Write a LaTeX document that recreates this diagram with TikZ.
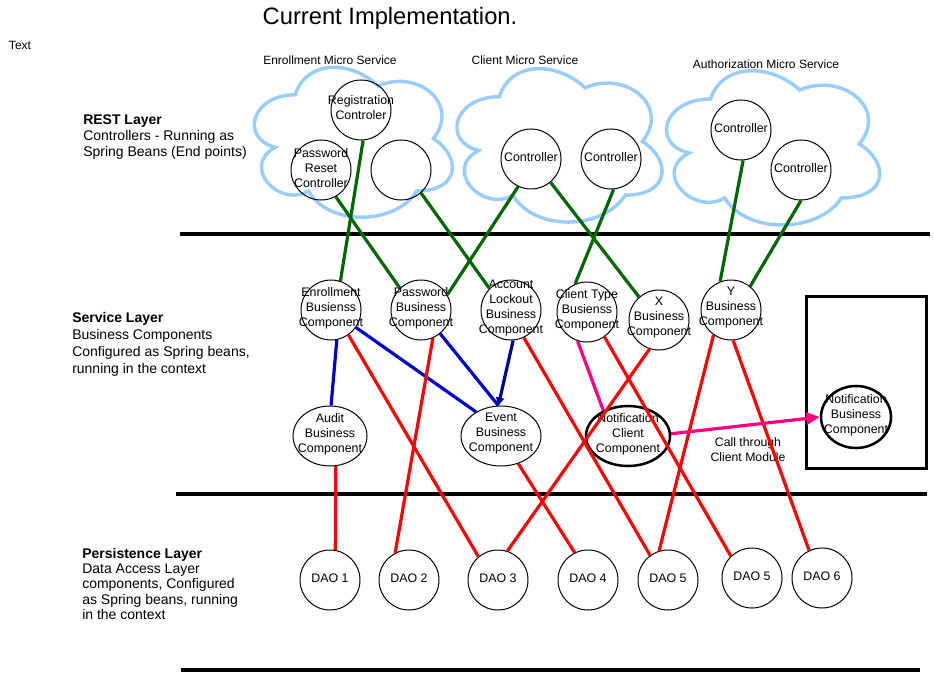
\documentclass[tikz,border=0pt]{standalone}
\usepackage{fontspec}
\setmainfont{Liberation Sans}
\usetikzlibrary{shapes.geometric,arrows.meta}

\definecolor{cloudblue}{RGB}{153,204,255}
\definecolor{restgreen}{RGB}{0,102,0}
\definecolor{callblue}{RGB}{0,0,204}
\definecolor{callnavy}{RGB}{0,0,153}
\definecolor{daored}{RGB}{255,0,0}
\definecolor{notifypink}{RGB}{255,0,128}

% micro-service cloud: #1,#2 = top-left corner, #3,#4 = width and height (y grows down)
\newcommand\mxcloud[4]{%
  \begin{scope}[shift={(#1,#2)}, x=#3, y=#4]
    \draw[cloudline] (0.25,0.25) .. controls (0.05,0.25) and (0,0.5) .. (0.16,0.55)
      .. controls (0,0.66) and (0.18,0.9) .. (0.31,0.8)
      .. controls (0.4,1) and (0.7,1) .. (0.8,0.8)
      .. controls (1,0.8) and (1,0.6) .. (0.875,0.5)
      .. controls (1,0.3) and (0.8,0.1) .. (0.625,0.2)
      .. controls (0.5,0.05) and (0.3,0.05) .. (0.25,0.25) -- cycle;
  \end{scope}}

\tikzset{
  cloudline/.style={draw=cloudblue, line width=2.6pt},
  ctext/.style={font=\fontsize{9.3}{11.25}\selectfont, align=center, inner sep=0pt, yshift=1.5pt},
  comp/.style={circle, draw, line width=0.75pt, minimum size=45pt, inner sep=0pt,
    label={[ctext]center:#1}},
  ell/.style={ellipse, draw, line width=0.75pt, inner sep=0pt,
    label={[ctext]center:#1}},
  boldell/.style={ell=#1, line width=1.9pt},
  small/.style={font=\fontsize{9}{11}\selectfont, align=center, inner sep=0pt},
  layertext/.style={font=\fontsize{10.5}{#1}\selectfont, align=left, inner sep=0pt, anchor=north west},
  layerline/.style={line width=2.6pt},
  rest/.style={draw=restgreen, line width=2.4pt},
  svc/.style={draw=callblue, line width=2.4pt},
  svcnavy/.style={draw=callnavy, line width=2.4pt},
  dao/.style={draw=daored, line width=2.4pt},
  notify/.style={draw=notifypink, line width=2.4pt},
}

\begin{document}
\begin{tikzpicture}[x=0.75pt, y=-0.75pt]
\useasboundingbox (0,0) rectangle (934,681);

% headings
\node[font=\fontsize{17.8}{20}\selectfont, inner sep=0pt] (title) at (390,18) {Current Implementation.};
\node[small] (txt) at (20,45) {Text};

% micro-service clouds and their names
\mxcloud{240}{51}{165.75pt}{-131.25pt}
\mxcloud{442}{52}{171.75pt}{-134.25pt}
\mxcloud{651}{54}{178.5pt}{-135pt}
\node[small] (enrms) at (330,60) {Enrollment Micro Service};
\node[small] (clims) at (525,60) {Client Micro Service};
\node[small] (authms) at (766,64) {Authorization Micro Service};

% layer descriptions
\node[layertext=12.3pt] (restdesc) at (83,114) {\textbf{REST Layer}\\Controllers - Running as\\Spring Beans (End points)};
\node[layertext=12.75pt] (svcdesc) at (72,312) {\textbf{Service Layer}\\Business Components\\Configured as Spring beans,\\running in the context};
\node[layertext=11.45pt] (perdesc) at (82,548) {\textbf{Persistence Layer}\\Data Access Layer\\components, Configured\\as Spring beans, running\\in the context};

% layer separators
\coordinate (s1a) at (180,234); \coordinate (s1b) at (930,234);
\coordinate (s2a) at (176,494); \coordinate (s2b) at (927,494);
\coordinate (s3a) at (181,670); \coordinate (s3b) at (920,670);
\draw[layerline] (s1a) -- (s1b);
\draw[layerline] (s2a) -- (s2b);
\draw[layerline] (s3a) -- (s3b);

% REST controllers
\node[comp={Registration\\Controler}] (reg) at (361,110) {};
\node[comp={Password\\Reset\\Controller}] (pwrc) at (321,170) {};
\node[comp={}] (ectl) at (401,170) {};
\node[comp={Controller}] (cc1) at (531,159) {};
\node[comp={Controller}] (cc2) at (611,159) {};
\node[comp={Controller}] (ac1) at (741,130) {};
\node[comp={Controller}] (ac2) at (801,170) {};

% business components
\node[comp={Enrollment\\Busienss\\Component}] (enr) at (331,310) {};
\node[comp={Password\\Business\\Component}] (pwb) at (421,310) {};
\node[comp={Account\\Lockout\\Business\\Component}] (alb) at (511,310) {};
\node[comp={Client Type\\Busienss\\Component}] (ctb) at (587,312) {};
\node[comp={X\\Business\\Component}] (xb) at (659,320) {};
\node[comp={Y\\Business\\Component}] (yb) at (731,310) {};

\node[ell={Audit\\Business\\Component}, minimum width=55.5pt, minimum height=45pt] (aud) at (330,436) {};
\node[ell={Event\\Business\\Component}, minimum width=60pt, minimum height=45pt] (evt) at (501,436) {};
\node[boldell={Notification\\Client\\Component}, minimum width=63pt, minimum height=45pt] (ncc) at (628,436) {};

% external notification module
\node[draw, line width=2.25pt, minimum width=90pt, minimum height=129pt, inner sep=0pt] (ext) at (866,382) {};
\node[boldell={Notification\\Business\\Component}, minimum width=52.5pt, minimum height=46.5pt] (nbc) at (856,417) {};
\node[small, font=\fontsize{9.2}{11.25}\selectfont] (call) at (748,450) {Call through\\Client Module};

% data access objects
\node[comp={DAO 1}] (d1) at (330,580) {};
\node[comp={DAO 2}] (d2) at (409,580) {};
\node[comp={DAO 3}] (d3) at (498,580) {};
\node[comp={DAO 4}] (d4) at (588,580) {};
\node[comp={DAO 5}] (d5) at (668,580) {};
\node[comp={DAO 5}] (d5b) at (752,578) {};
\node[comp={DAO 6}] (d6) at (822,578) {};

% controller -> business component
\draw[rest] (reg.274) -- (enr.72);
\draw[rest] (pwrc.299) -- (pwb.134);
\draw[rest] (ectl.311) -- (alb.135);
\draw[rest] (cc1.245) -- (pwb.30);
\draw[rest] (cc1.310) -- (xb.131);
\draw[rest] (cc2.275) -- (ctb.113);
\draw[rest] (ac1.274) -- (yb.111);
\draw[rest] (ac2.270) -- (yb.51);

% business component -> business component
\draw[svc] (enr.281) -- (aud.88);
\draw[svc] (enr.325) -- (evt.136);
\draw[svc] (pwb.309) -- (evt.95);
\draw[svcnavy, -{Triangle[length=6pt,width=6pt]}] (alb.274) -- (evt.95);

% business component -> DAO
\draw[dao] (enr.305) -- (d3.130);
\draw[dao] (pwb.293) -- (d2.117);
\draw[dao] (aud.281) -- (d1.80);
\draw[dao] (alb.295) -- (d5.126);
\draw[dao] (ctb.305) -- (d5b.134);
\draw[dao] (xb.252) -- (d3.72);
\draw[dao] (yb.235) -- (d5.107);
\draw[dao] (yb.274) -- (d6.115);
\draw[dao] (evt.302) -- (d4.116);

% notification path
\draw[notify] (ctb.252) -- (ncc.134);
\draw[notify, -{Triangle[length=10pt,width=9pt]}] (ncc.3) -- (nbc.west);
\end{tikzpicture}
\end{document}
